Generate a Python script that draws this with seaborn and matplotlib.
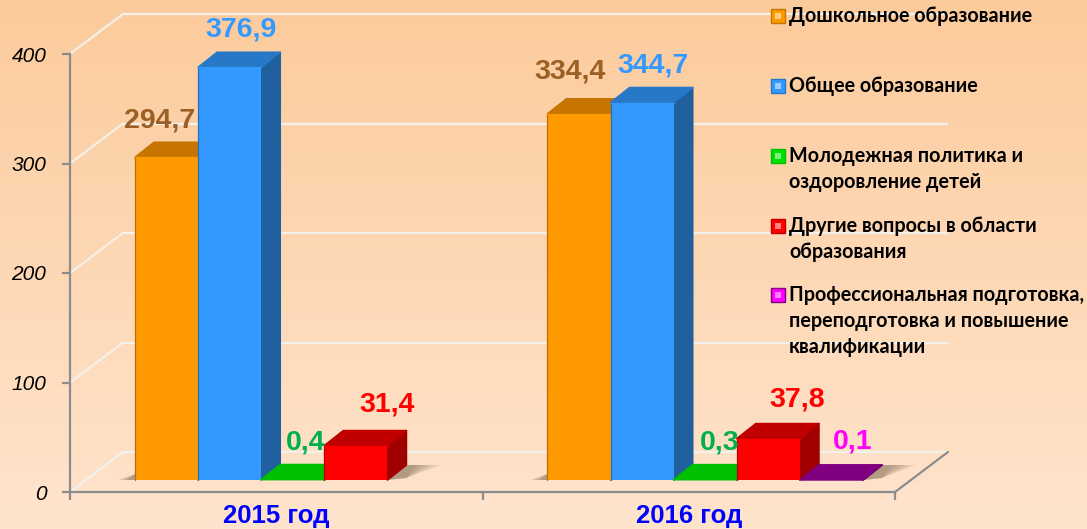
import matplotlib
matplotlib.use('Agg')
import matplotlib.pyplot as plt
import numpy as np
import pandas as pd
import seaborn as sns
from matplotlib.colors import LinearSegmentedColormap, to_rgb
from matplotlib.patches import Polygon, Rectangle
from matplotlib.transforms import Affine2D

years = ['2015 год', '2016 год']
sectors = ['Дошкольное образование', 'Общее образование',
           'Молодежная политика и\nоздоровление детей',
           'Другие вопросы в области\nобразования',
           'Профессиональная подготовка,\nпереподготовка и повышение\nквалификации']
values_2015 = [294.7, 376.9, 0.4, 31.4, np.nan]
values_2016 = [334.4, 344.7, 0.3, 37.8, 0.1]
y_ticks = [0, 100, 200, 300, 400]

colors = ['#FF9900', '#3399FF', '#00E000', '#FF0000', '#FF00FF']
top_colors = ['#C67600', '#2878C8', '#00C000', '#C00000', '#800080']
side_colors = ['#A86500', '#20609F', '#009000', '#A00000', '#660066']
label_colors = ['#9C5F26', '#3399FF', '#00B050', '#FF0000', '#FF00FF']
# label shift from the bar centre, px
label_dx = [[-7, 11, 13, 31, 0], [-9, 11, 14, 29, 21]]
label_dy = [37, 38, 37, 41, 42, 37, 37, 39, 38]

W, H = 1087, 529
px_x = 2 / 825
px_y = 400 / 438

df = pd.DataFrame({
    'year': np.repeat(years, len(sectors)),
    'sector': sectors * 2,
    'value': values_2015 + values_2016,
})

sns.set_theme(style='white')
plt.rcParams['font.family'] = ['Liberation Sans', 'DejaVu Sans']

fig = plt.figure(figsize=(W / 100, H / 100), dpi=100)
bg = fig.add_axes([0, 0, 1, 1], zorder=-1)
bg.imshow(np.linspace(0, 1, 256).reshape(-1, 1), aspect='auto',
          cmap=LinearSegmentedColormap.from_list('bg', ['#FCCB9C', '#FFE4CD']))
bg.axis('off')

ax = fig.add_axes([70 / W, 37 / H, 825 / W, 438 / H], facecolor='none')
sns.barplot(data=df, x='year', y='value', hue='sector', hue_order=sectors,
            palette=colors, saturation=1, width=0.765, gap=0, legend=False,
            ax=ax)
ax.set_xlim(-0.5, 1.5)
ax.set_ylim(0, 400)

# walls and floor
wall = ax.transData + Affine2D().translate(53, 40)
ax.hlines(y_ticks, -0.5, 1.5, color='#F4F0EA', lw=1.6, transform=wall,
          clip_on=False, zorder=1)
for t in y_ticks:
    ax.plot([-0.5, -0.5 + 53 * px_x], [t, t + 40 * px_y], color='#F4F0EA',
            lw=1.6, clip_on=False, zorder=1)
ax.plot([1.5, 1.5 + 53 * px_x], [0, 40 * px_y], color='#8C8C8C', lw=1.6,
        clip_on=False, zorder=1.5)

# bars are pushed into the floor, the faces are built from what seaborn drew
shift = ax.transData + Affine2D().translate(16.5, 12)
dx, dy = 19 * px_x, 15 * px_y
label_i = 0
bars = []
for j, container in enumerate(ax.containers):
    for bar in container:
        if np.isnan(bar.get_height()):
            continue
        bars.append((round(bar.get_x() + bar.get_width() / 2), j, bar))
bars.sort(key=lambda b: (b[0], b[1]))

for i in range(2):
    group = [b for b in bars if b[0] == i]
    x0 = group[0][2].get_x()
    x1 = group[-1][2].get_x() + group[-1][2].get_width()
    for k in range(5):
        a = 0.11
        ax.add_patch(Polygon(
            [(x0 - (17 - 2.5 * k) * px_x, 0), (x0, 0), (x0, 6 * px_y)],
            fc='#5A4632', ec='none', alpha=a, transform=shift, clip_on=False,
            zorder=1.8))
        ax.add_patch(Polygon(
            [(x1, 0), (x1 + dx, dy), (x1 + dx + (34 - 6 * k) * px_x, dy),
             (x1 + dx, 2 * px_y)],
            fc='#5A4632', ec='none', alpha=a, transform=shift, clip_on=False,
            zorder=1.8))

for n, (i, j, bar) in enumerate(bars):
    x, w, h = bar.get_x(), bar.get_width(), bar.get_height()
    z = 3 + n * 0.1
    bar.set_transform(shift)
    bar.set_clip_on(False)
    bar.set_zorder(z + 0.02)
    bar.set_edgecolor('none')
    style = dict(transform=shift, clip_on=False, joinstyle='round', lw=1.2)
    ax.add_patch(Polygon([(x + w, 0), (x + w + dx, dy), (x + w + dx, h + dy), (x + w, h)],
                         fc=side_colors[j], ec=side_colors[j], zorder=z, **style))
    ax.add_patch(Polygon([(x, h), (x + dx, h + dy), (x + w + dx, h + dy), (x + w, h)],
                         fc=top_colors[j], ec=top_colors[j], zorder=z + 0.01, **style))
    if h > 2:
        # thin bevel on the front face
        dark = tuple(c * 0.72 for c in to_rgb(colors[j]))
        ax.plot([x, x], [0, h], color=dark, lw=0.9, transform=shift,
                clip_on=False, zorder=z + 0.03)
        ax.plot([x, x + w], [h, h], color=colors[j], lw=0.9, transform=shift,
                clip_on=False, solid_capstyle='round', zorder=z + 0.03)

    label = f'{h:.1f}'.replace('.', ',')
    ax.annotate(label, xy=(x + w / 2, h), xycoords=shift,
                xytext=(label_dx[i][j] * 0.72, label_dy[label_i] * 0.72),
                textcoords='offset points', ha='center', va='center',
                fontsize=20.5, fontweight='bold', color=label_colors[j],
                annotation_clip=False, zorder=20)
    label_i += 1

# axes
sns.despine(ax=ax)
for side in ['left', 'bottom']:
    ax.spines[side].set_color('#8C8C8C')
    ax.spines[side].set_linewidth(1.6)
    ax.spines[side].set_zorder(2)
ax.set_xlabel('')
ax.set_ylabel('')
ax.set_yticks(y_ticks)
ax.set_yticklabels([str(t) for t in y_ticks], fontsize=15, fontstyle='italic',
                   color='black')
for t in ax.get_yticklabels():
    t.set_transform(t.get_transform() + Affine2D().translate(0, -2))
ax.tick_params(axis='y', left=True, length=6, width=1.6, color='#8C8C8C', pad=11)
ax.set_xticks([-0.5, 0.5, 1.5])
ax.set_xticklabels([])
ax.set_xticks([0, 1], labels=years, minor=True)
ax.tick_params(axis='x', which='major', bottom=True, length=6, width=1.6,
               color='#8C8C8C')
ax.tick_params(axis='x', which='minor', bottom=False, pad=5, labelsize=18.5,
               labelcolor='#0000FF')
for t in ax.get_xticklabels(minor=True):
    t.set_fontweight('bold')

# legend, line by line the way the slide had it
legend_y = [16, 86, 156, 226, 295]
for j, (name, y) in enumerate(zip(sectors, legend_y)):
    fig.add_artist(Rectangle((771 / W, 1 - (y + 7) / H), 14 / W, 14 / H,
                             transform=fig.transFigure, fc=colors[j],
                             ec=top_colors[j], lw=1.0))
    fig.add_artist(Rectangle((775 / W, 1 - (y + 3) / H), 6 / W, 6 / H,
                             transform=fig.transFigure,
                             fc=tuple(0.5 + 0.5 * c for c in to_rgb(colors[j])),
                             ec='none'))
    fig.text(789 / W, 1 - (y - 10) / H, name, ha='left', va='top', fontsize=14.2,
             fontweight='bold', family=['Lato', 'Noto Sans', 'DejaVu Sans'],
             color='black', linespacing=1.36)

fig.savefig('out.png', dpi=100)
